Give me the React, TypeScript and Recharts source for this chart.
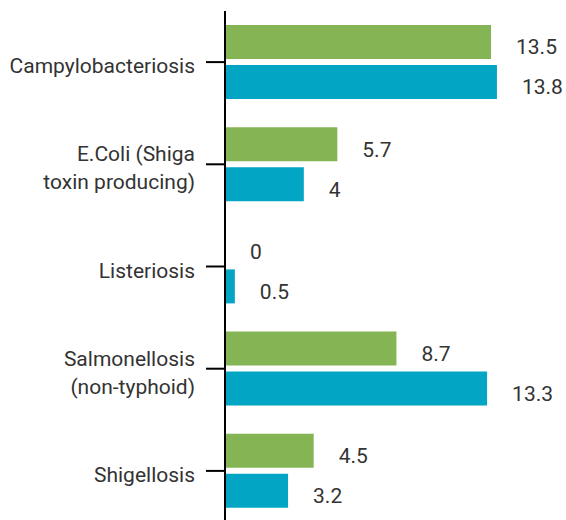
import React from "react";
import { BarChart, Bar, XAxis, YAxis, LabelList } from "recharts";

const categories = [
  "Campylobacteriosis",
  "E.Coli (Shiga\ntoxin producing)",
  "Listeriosis",
  "Salmonellosis\n(non-typhoid)",
  "Shigellosis",
];
const greenValues = [13.5, 5.7, 0, 8.7, 4.5];
const blueValues = [13.8, 4, 0.5, 13.3, 3.2];

const GREEN = "#85b455";
const BLUE = "#03a5c5";
const TEXT = "#333333";
const FONT = "Roboto, sans-serif";

const data = categories.map((name, i) => ({
  name,
  green: greenValues[i],
  blue: blueValues[i],
}));

// multi-line category label, block centred on the tick
function CategoryTick(props: any) {
  const { x, y, payload } = props;
  const lines = String(payload.value).split("\n");
  const lh = 28;
  const first = y + 11 - ((lines.length - 1) * lh) / 2;
  return (
    <text x={x} y={first} textAnchor="end" fill={TEXT} fontSize={21} fontFamily={FONT}>
      {lines.map((l, i) => (
        <tspan key={i} x={x} y={first + i * lh}>
          {l}
        </tspan>
      ))}
    </text>
  );
}

export default function App() {
  return (
    <div style={{ position: "absolute", left: 0, top: 0, width: 566, height: 520, overflow: "hidden", background: "#fff" }}>
      <BarChart
        width={566}
        height={530}
        data={data}
        layout="vertical"
        margin={{ top: 11, right: 6, bottom: 8, left: 0 }}
        barSize={34}
        barGap={6}
      >
        <XAxis type="number" domain={[0, 17]} hide />
        <YAxis
          type="category"
          dataKey="name"
          width={225}
          tickSize={19}
          tickMargin={11}
          axisLine={{ stroke: "#000", strokeWidth: 2 }}
          tickLine={{ stroke: "#000", strokeWidth: 2 }}
          tick={<CategoryTick />}
          interval={0}
        />
        <Bar dataKey="green" fill={GREEN} isAnimationActive={false} minPointSize={0.01}>
          <LabelList dataKey="green" position="right" offset={25} fill={TEXT} fontSize={21} fontFamily={FONT} dy={5} />
        </Bar>
        <Bar dataKey="blue" fill={BLUE} isAnimationActive={false}>
          <LabelList dataKey="blue" position="right" offset={25} fill={TEXT} fontSize={21} fontFamily={FONT} dy={5} />
        </Bar>
      </BarChart>
    </div>
  );
}
